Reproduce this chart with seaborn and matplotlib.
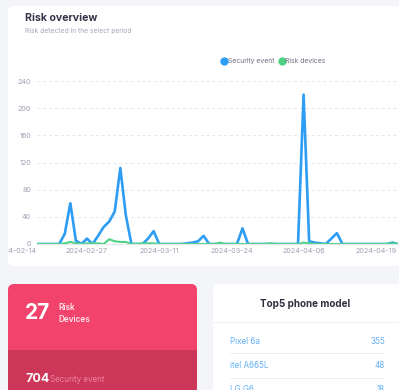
import numpy as np
import pandas as pd
import matplotlib
matplotlib.use("Agg")
import matplotlib.pyplot as plt
import seaborn as sns
from matplotlib.patches import FancyBboxPatch, Rectangle
from matplotlib.transforms import IdentityTransform, Bbox
from matplotlib.lines import Line2D

# ---------------- data ----------------
dates = pd.date_range("2024-02-18", "2024-04-23", freq="D")
security_event = [0, 0, 0, 0, 0, 15, 60, 5, 0, 8, 0, 12, 25, 33, 48, 112, 42, 0,
                  0, 0, 8, 19, 0, 0, 0, 0, 0, 1, 2, 4, 12, 0, 0, 0, 0, 0,
                  0, 23, 0, 0, 0, 0, 0, 0, 0, 0, 0, 0, 220, 4, 2, 1, 0, 8, 16, 0,
                  0, 0, 0, 0, 0, 0, 0, 0, 2, 0]
risk_devices = [0, 0, 0, 0, 0, 1, 3, 1, 0, 1, 1, 1, 0, 7, 4, 3, 3, 0,
                0, 1, 1, 1, 0, 0, 0, 0, 0, 0, 0, 0, 0, 0, 0, 2, 0, 0,
                0, 0, 0, 0, 0, 0, 1, 0, 0, 0, 0, 0, 2, 1, 0, 0, 0, 0, 0, 0,
                0, 0, 0, 0, 0, 0, 0, 0, 1, 0]
series_names = ["Security event", "Risk devices"]
x_tick_dates = ["2024-02-27", "2024-03-11", "2024-03-24", "2024-04-06", "2024-04-19"]
first_label = "2024-02-14"
y_ticks = [0, 40, 80, 120, 160, 200, 240]

risk_count = "27"
event_count = "704"
phone_models = ["Pixel 6a", "itel A665L", "LG G6"]
phone_counts = ["355", "48", "18"]

BLUE = "#2e9df4"
GREEN = "#4fd286"

df = pd.DataFrame({
    "date": list(dates) * 2,
    "value": security_event + risk_devices,
    "series": [series_names[0]] * len(dates) + [series_names[1]] * len(dates),
})

# ---------------- figure ----------------
W, H = 399, 390
sns.set_theme(style="white")
plt.rcParams["font.family"] = ["Inter", "DejaVu Sans"]

fig = plt.figure(figsize=(W / 100, H / 100), dpi=100)
fig.patch.set_facecolor("#f4f5f8")
ident = IdentityTransform()


def box(x0, y0, x1, y1, color, r=6, z=-5):
    p = FancyBboxPatch((x0, H - y1), x1 - x0, y1 - y0,
                       boxstyle=f"round,pad=0,rounding_size={r}",
                       transform=ident, facecolor=color, edgecolor="none", zorder=z)
    fig.add_artist(p)
    return p


def rect(x0, y0, x1, y1, color, z=-4):
    p = Rectangle((x0, H - y1), x1 - x0, y1 - y0, transform=ident,
                  facecolor=color, edgecolor="none", zorder=z)
    fig.add_artist(p)
    return p


def txt(x, y, s, **kw):
    return fig.text(x / W, 1 - y / H, s, **kw)


# top card
card = box(8, 6, 420, 266, "white")
txt(25, 18, "Risk overview", fontsize=7.6, fontweight="bold", color="#34344a",
    ha="left", va="center")
txt(25, 31, "Risk detected in the select period", fontsize=4.8, color="#a3a7ba",
    ha="left", va="center")

# chart
ax = fig.add_axes([37 / W, 1 - 244 / H, (398 - 37) / W, (244 - 81) / H])
ax.patch.set_alpha(0)
sns.lineplot(data=df, x="date", y="value", hue="series", hue_order=series_names,
             palette=[BLUE, GREEN], ax=ax, legend=False, linewidth=1.9)
lines = ax.get_lines()
if len(lines) >= 2:
    lines[1].set_linewidth(1.5)
ax.set_xlim(dates[0], dates[-1])
ax.set_ylim(0, 240)
ax.set_yticks(y_ticks)
ax.set_xticks(pd.to_datetime(x_tick_dates))
ax.set_xticklabels(x_tick_dates)
ax.set_xlabel("")
ax.set_ylabel("")
ax.tick_params(axis="both", length=0, labelsize=5.2, colors="#9ca0b2")
ax.tick_params(axis="y", pad=4.3)
ax.tick_params(axis="x", pad=2.6)
ax.yaxis.grid(True, linestyle=(0, (3, 3)), color="#e4e7ee", linewidth=0.7)
ax.xaxis.grid(False)
for s in ["top", "right", "left"]:
    ax.spines[s].set_visible(False)
ax.spines["bottom"].set_color("#e2e5ec")
ax.spines["bottom"].set_linewidth(0.8)

# first date label sits left of the axis and is cut by the card edge
t0 = txt(36, 251, first_label, ha="right", va="center", fontsize=5.2, color="#9ca0b2")
t0.set_clip_on(True)
t0.set_clip_box(Bbox([[8, 0], [W, H]]))

handles = [Line2D([], [], marker="o", ls="", color=BLUE, markersize=5),
           Line2D([], [], marker="o", ls="", color=GREEN, markersize=5)]
leg = ax.legend(handles, series_names, loc="center", bbox_to_anchor=(273 / W, 1 - 61 / H),
                bbox_transform=fig.transFigure, ncol=2, frameon=False, fontsize=4.9,
                handletextpad=0.05, columnspacing=0.6, handlelength=1.0, borderpad=0)
for t in leg.get_texts():
    t.set_color("#6c7082")

# red card
red = box(8, 284, 197, 420, "#f2436d")
low = rect(8, 350, 197, 420, "#cb3659")
low.set_clip_path(red)
txt(25, 313, risk_count, fontsize=15, fontweight="bold", color="white", ha="left", va="center")
txt(58, 307, "Risk", fontsize=5.9, fontweight="semibold", color="#ffe6ec", ha="left", va="center")
txt(58, 320, "Devices", fontsize=5.9, fontweight="semibold", color="#ffe6ec", ha="left", va="center")
txt(25, 379, event_count, fontsize=9, fontweight="bold", color="white", ha="left", va="center")
txt(50, 380, "Security event", fontsize=5.8, color="#f1829f", ha="left", va="center")

# phone card
box(213, 284, 420, 420, "white")
rect(213, 322, 420, 323, "#f1f2f5")
txt(305, 304, "Top5 phone model", fontsize=7.1, fontweight="bold", color="#2f2f40",
    ha="center", va="center")
row_y = [341, 365, 390]
for i, (m, c) in enumerate(zip(phone_models, phone_counts)):
    txt(230, row_y[i], m, fontsize=5.8, color="#62b0f5", ha="left", va="center")
    txt(385, row_y[i], c, fontsize=5.8, color="#62b0f5", ha="right", va="center")
for yy in [353, 378]:
    rect(230, yy, 385, yy + 0.8, "#eeeff2")

fig.savefig("out.png", dpi=100, facecolor=fig.get_facecolor())
